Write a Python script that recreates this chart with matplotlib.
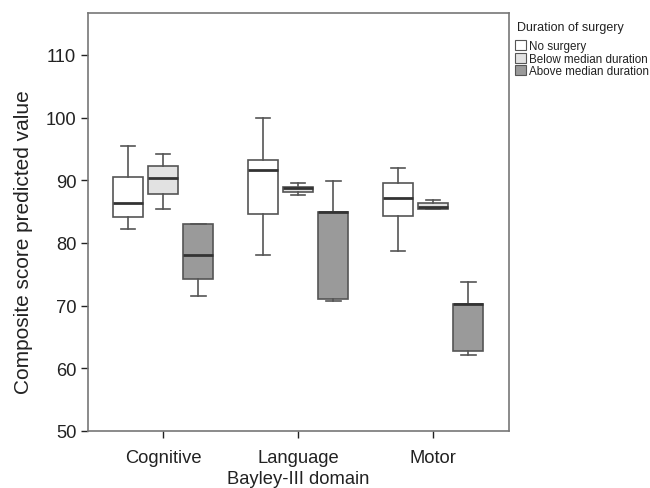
import matplotlib
matplotlib.use("Agg")
import matplotlib.pyplot as plt
from matplotlib.patches import Patch

plt.rcParams["font.family"] = ["Liberation Sans", "DejaVu Sans"]

# Bayley-III domains and surgery groups
domains = ["Cognitive", "Language", "Motor"]
groups = ["No surgery", "Below median duration", "Above median duration"]
group_colors = ["#ffffff", "#e2e2e2", "#9a9a9a"]

# box stats: whislo, q1, median, q3, whishi
no_surgery = [
    [82.3, 84.1, 86.4, 90.5, 95.5],
    [78.1, 84.6, 91.6, 93.3, 99.9],
    [78.7, 84.3, 87.1, 89.6, 91.9],
]
below_median = [
    [85.4, 87.8, 90.4, 92.3, 94.2],
    [87.7, 88.2, 88.7, 89.0, 89.5],
    [85.4, 85.4, 85.7, 86.3, 86.9],
]
above_median = [
    [71.6, 74.2, 78.1, 83.0, 83.0],
    [70.7, 71.0, 84.9, 84.9, 89.9],
    [62.1, 62.8, 70.3, 70.3, 73.8],
]
all_groups = [no_surgery, below_median, above_median]

fig = plt.figure(figsize=(6.5, 4.89), dpi=100)
ax = fig.add_axes([0.1354, 0.1166, 0.6477, 0.855])

offsets = [-0.26, 0.0, 0.26]
line_col = "#555555"
for g, data in enumerate(all_groups):
    stats = []
    for vals in data:
        lo, q1, med, q3, hi = vals
        stats.append({"whislo": lo, "q1": q1, "med": med, "q3": q3, "whishi": hi, "fliers": []})
    pos = [i + 1 + offsets[g] for i in range(len(domains))]
    ax.bxp(stats, positions=pos, widths=0.22, patch_artist=True, showfliers=False,
           boxprops=dict(facecolor=group_colors[g], edgecolor=line_col, linewidth=1.2),
           whiskerprops=dict(color=line_col, linewidth=1.2),
           capprops=dict(color=line_col, linewidth=1.2),
           capwidths=0.11,
           medianprops=dict(color="#333333", linewidth=2.0))

ax.set_xlim(0.444, 3.563)
ax.set_ylim(50, 116.7)
ax.set_yticks([50, 60, 70, 80, 90, 100, 110])
ax.set_xticks([1, 2, 3])
ax.set_xticklabels(domains)
ax.tick_params(labelsize=13.2, colors="#222222", length=5, width=1, direction="out")
ax.tick_params(axis="x", pad=8)
for sp in ax.spines.values():
    sp.set_color("#777777")
    sp.set_linewidth(1.2)
ax.set_xlabel("Bayley-III domain", fontsize=13.2, color="#222222", labelpad=3)
ax.set_ylabel("Composite score predicted value", fontsize=15, color="#222222")
ax.yaxis.set_label_coords(-0.131, 0.453)

# legend title placed separately to get the gap seen in the original
fig.text(517 / 650, 1 - 28 / 489, "Duration of surgery", fontsize=9, color="#222222",
         ha="left", va="center")
handles = [Patch(facecolor=c, edgecolor="#555555", linewidth=0.8) for c in group_colors]
leg = fig.legend(handles, groups, loc="upper left",
                 bbox_to_anchor=(507 / 650, 1 - 33 / 489), frameon=False, fontsize=8.4,
                 handlelength=0.9, handleheight=0.9,
                 handletextpad=0.25, labelspacing=0.05, borderpad=0.2)
for t in leg.get_texts():
    t.set_color("#222222")

fig.savefig("out.png", dpi=100)
